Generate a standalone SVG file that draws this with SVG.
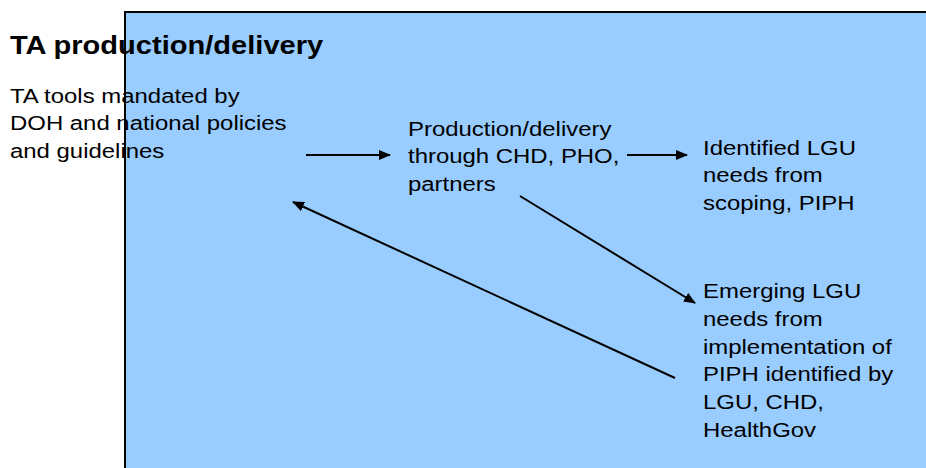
<svg xmlns="http://www.w3.org/2000/svg" width="926" height="468" viewBox="0 0 926 468">
  <style>
    .t { font-family: "Liberation Sans", Arial, sans-serif; font-size: 21px; fill: #000; }
    .title { font-family: "Liberation Sans", Arial, sans-serif; font-size: 25.5px; font-weight: bold; fill: #000; }
    .conn { stroke: #000; stroke-width: 2; fill: none; marker-end: url(#arr); }
  </style>
  <defs>
    <marker id="arr" markerUnits="userSpaceOnUse" markerWidth="12" markerHeight="10" viewBox="0 0 12 10" refX="11" refY="5" orient="auto">
      <path d="M0,0 L12,5 L0,10 Z" fill="#000"/>
    </marker>
  </defs>
  <rect width="926" height="468" fill="#ffffff"/>
  <g id="panel">
    <rect x="125" y="12" width="820" height="480" fill="#99CCFF" stroke="#000" stroke-width="2"/>
  </g>
  <g id="title">
    <g transform="translate(10,53.5) scale(1.14,1)"><text class="title" x="0" y="0">TA production/delivery</text></g>
  </g>
  <g id="node-ta-tools">
    <g transform="translate(10,103.3) scale(1.14,1)">
      <text class="t" x="0" y="0">TA tools mandated by<tspan x="0" dy="27.2">DOH and national policies</tspan><tspan x="0" dy="27.2">and guidelines</tspan></text>
    </g>
  </g>
  <g id="node-production">
    <g transform="translate(408,136) scale(1.14,1)">
      <text class="t" x="0" y="0">Production/delivery<tspan x="0" dy="27.4">through CHD, PHO,</tspan><tspan x="0" dy="27.4">partners</tspan></text>
    </g>
  </g>
  <g id="node-identified">
    <g transform="translate(703,155) scale(1.14,1)">
      <text class="t" x="0" y="0">Identified LGU<tspan x="0" dy="27.4">needs from</tspan><tspan x="0" dy="27.4">scoping, PIPH</tspan></text>
    </g>
  </g>
  <g id="node-emerging">
    <g transform="translate(703,298.3) scale(1.14,1)">
      <text class="t" x="0" y="0">Emerging LGU<tspan x="0" dy="27.7">needs from</tspan><tspan x="0" dy="27.7">implementation of</tspan><tspan x="0" dy="27.7">PIPH identified by</tspan><tspan x="0" dy="27.7">LGU, CHD,</tspan><tspan x="0" dy="27.7">HealthGov</tspan></text>
    </g>
  </g>
  <g id="connectors">
    <line class="conn" x1="306" y1="155" x2="390" y2="155"/>
    <line class="conn" x1="627" y1="155" x2="687" y2="155"/>
    <line class="conn" x1="520" y1="196" x2="695" y2="303"/>
    <line class="conn" x1="675" y1="378" x2="293" y2="202"/>
  </g>
</svg>
